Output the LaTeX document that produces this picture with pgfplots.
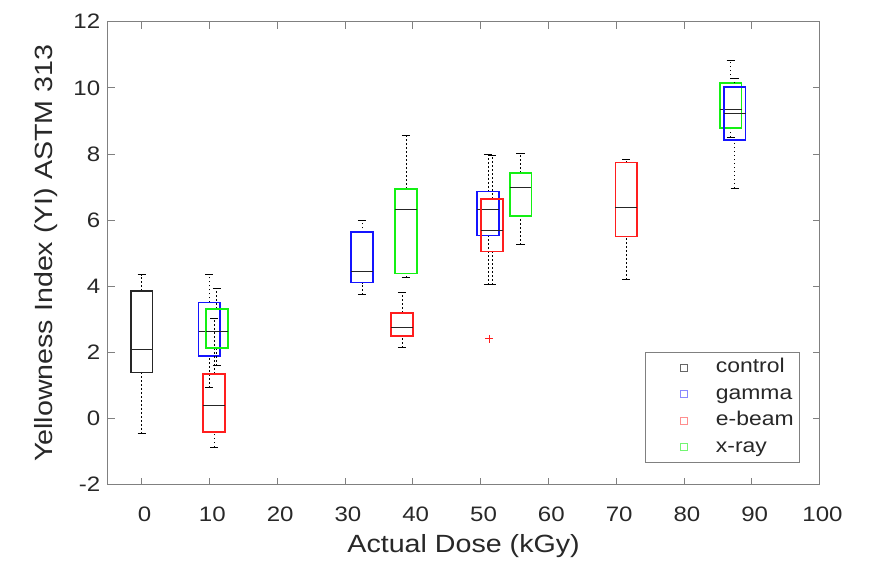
\documentclass[border=0pt]{standalone}
\usepackage{fontspec}
\setmainfont{Liberation Sans}[FakeStretch=1.15]
\usepackage{pgfplots}
\pgfplotsset{compat=1.18}
\definecolor{cblue}{RGB}{20,20,255}
\definecolor{cred}{RGB}{255,30,30}
\definecolor{cgreen}{RGB}{20,240,20}
\definecolor{txt}{RGB}{40,40,40}
\pgfplotsset{
  legsq/.style={legend image code/.code={\draw[##1] (30.5bp,-3.5bp) rectangle (37.5bp,3.5bp); \path (0bp,0bp) (64bp,0bp);}},
  whisk/.style={forget plot, black, line width=0.75bp, dash pattern=on 1.5bp off 2.5bp},
  wcap/.style={forget plot, black, line width=0.8bp},
}
% box: colour, position, lower whisker, lower quartile, median, upper quartile, upper whisker
\newcommand{\bxp}[7]{%
  \pgfmathsetmacro\xa{#2-1.6}\pgfmathsetmacro\xb{#2+1.6}%
  \pgfmathsetmacro\ca{#2-0.6}\pgfmathsetmacro\cb{#2+0.6}%
  \addplot[whisk] coordinates {(#2,#3) (#2,#4)};
  \addplot[whisk] coordinates {(#2,#6) (#2,#7)};
  \addplot[wcap] coordinates {(\ca,#3) (\cb,#3)};
  \addplot[wcap] coordinates {(\ca,#7) (\cb,#7)};
  \addplot[forget plot, draw=#1, line width=1.7bp] coordinates {(\xa,#4) (\xb,#4) (\xb,#6) (\xa,#6)} --cycle;
  \addplot[forget plot, black!85, line width=1bp] coordinates {(\xa,#5) (\xb,#5)};
}
\begin{document}
\begin{tikzpicture}
\begin{axis}[
  scale only axis, width=712bp, height=463bp,
  xmin=-5, xmax=100, ymin=-2, ymax=12,
  xtick={0,10,...,100}, ytick={-2,0,...,12},
  tick align=inside, major tick length=7bp,
  axis line style={black!50, line width=0.8bp},
  tick style={black!50, line width=0.8bp},
  /pgf/number format/assume math mode=true,
  ticklabel style={font=\fontsize{21}{25}\selectfont, text=txt},
  xticklabel style={xshift=3bp},
  xticklabel shift=19bp, yticklabel shift=4bp,
  xlabel={Actual Dose (kGy)}, ylabel={Yellowness Index (YI) ASTM 313},
  label style={font=\fontsize{25}{30}\selectfont, text=txt},
  xlabel shift=6bp, ylabel shift=9bp,
  legend style={at={(0.9726,0.0475)}, anchor=south east, draw=black!50, line width=0.8bp,
    font=\fontsize{20}{24}\selectfont, text=txt, row sep=2.5bp, column sep=0bp,
    inner xsep=4bp, inner ysep=3bp, nodes={inner sep=2bp, text depth=5bp, text height=15bp}},
  legend cell align=left,
]
% control
\bxp{black!85}{0}{-0.46}{1.39}{2.08}{3.86}{4.35}
% 10 kGy group
\bxp{cblue}{10}{0.93}{1.88}{2.63}{3.51}{4.35}
\bxp{cred}{10.7}{-0.87}{-0.40}{0.40}{1.35}{3.02}
\bxp{cgreen}{11.1}{1.6}{2.14}{2.63}{3.32}{3.92}
% ~32-39 kGy
\bxp{cblue}{32.5}{3.74}{4.11}{4.44}{5.63}{5.99}
\bxp{cred}{38.4}{2.14}{2.50}{2.76}{3.20}{3.80}
\bxp{cgreen}{39.0}{4.26}{4.38}{6.31}{6.95}{8.56}
% ~51-56 kGy
\bxp{cblue}{51.1}{4.05}{5.53}{6.31}{6.86}{8.00}
\bxp{cred}{51.7}{4.05}{5.05}{5.69}{6.64}{7.97}
\addplot[forget plot, only marks, mark=+, cred, mark size=4bp, line width=0.8bp] coordinates {(51.3,2.41)};
\bxp{cgreen}{55.9}{5.25}{6.13}{6.98}{7.43}{8.03}
% ~71 kGy
\bxp{cred}{71.5}{4.20}{5.50}{6.37}{7.74}{7.82}
% ~87 kGy
\bxp{cgreen}{86.9}{8.5}{8.78}{9.35}{10.14}{10.82}
\bxp{cblue}{87.5}{6.97}{8.43}{9.23}{10.02}{10.29}
% legend
\addlegendimage{legsq, draw=black!60, line width=0.8bp}
\addlegendentry{control}
\addlegendimage{legsq, draw=cblue!50, line width=0.8bp}
\addlegendentry{gamma}
\addlegendimage{legsq, draw=cred!50, line width=0.8bp}
\addlegendentry{e-beam}
\addlegendimage{legsq, draw=cgreen!60, line width=0.8bp}
\addlegendentry{x-ray}
\coordinate (bl) at (rel axis cs:0,0);
\coordinate (tr) at (rel axis cs:1,1);
\end{axis}
\pgfresetboundingbox
\path[use as bounding box] ([shift={(-107.7bp,-77bp)}]bl) rectangle ([shift={(54.5bp,21.7bp)}]tr);
\end{tikzpicture}
\end{document}
